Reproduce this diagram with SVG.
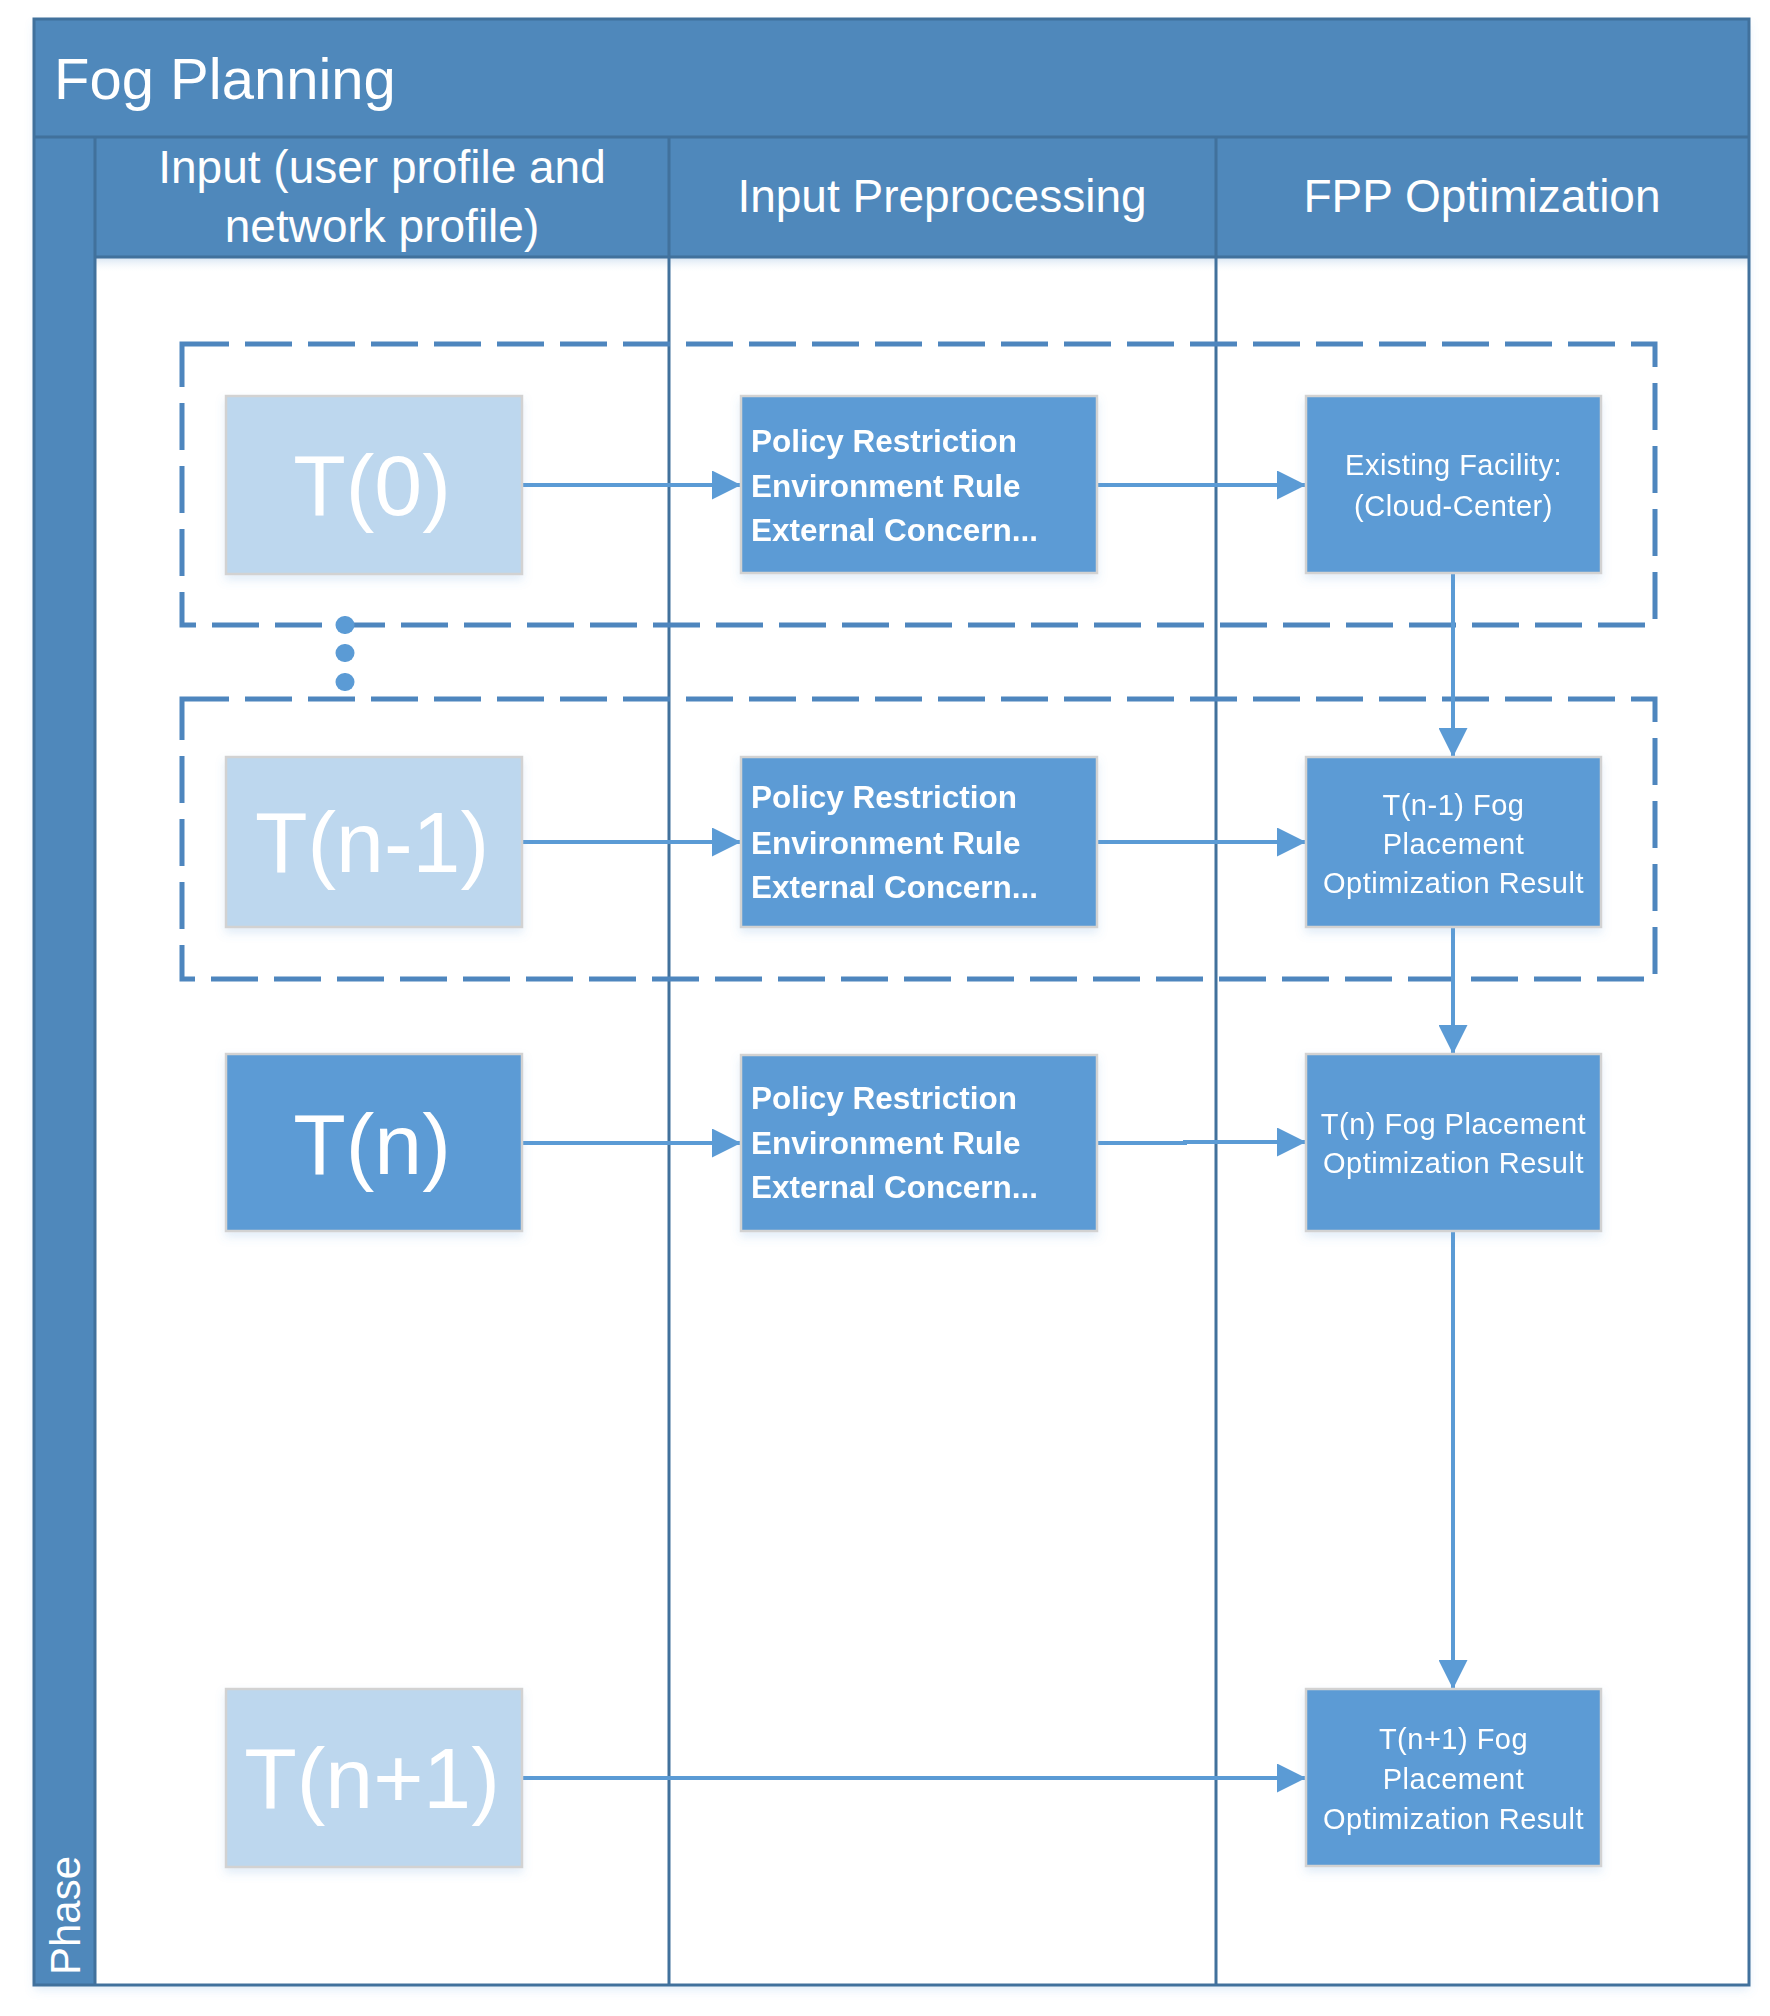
<svg xmlns="http://www.w3.org/2000/svg" width="1770" height="2016" viewBox="0 0 1770 2016">
<style>
.band{fill:#4F88BB;}
.frameln{stroke:#41719C;stroke-width:3;fill:none;}
.hdr{font-family:"Liberation Sans",Arial,sans-serif;fill:#FFFFFF;font-size:46px;text-anchor:middle;}
.light{fill:#BDD7EE;stroke:#D2D2D2;stroke-width:2.5;}
.dark{fill:#5B9BD5;stroke:#D2D2D2;stroke-width:2.5;}
.big{font-family:"Liberation Sans",Arial,sans-serif;fill:#FFFFFF;font-size:86px;text-anchor:middle;}
.pol{font-family:"Liberation Sans",Arial,sans-serif;fill:#FFFFFF;font-size:31.5px;font-weight:bold;}
.res{font-family:"Liberation Sans",Arial,sans-serif;fill:#FFFFFF;font-size:29px;letter-spacing:0.5px;text-anchor:middle;}
.dash{fill:none;stroke:#4E86BE;stroke-width:5;stroke-dasharray:47 16;}
.conn{fill:none;stroke:#5B9BD5;stroke-width:4;}
</style>
<defs>
<marker id="arr" viewBox="0 0 29 29" refX="29" refY="14.5" markerWidth="29" markerHeight="29" markerUnits="userSpaceOnUse" orient="auto">
<path d="M0,0 L29,14.5 L0,29 z" fill="#5B9BD5"/>
</marker>
<filter id="sh" x="-10%" y="-10%" width="120%" height="130%">
<feDropShadow dx="0" dy="5" stdDeviation="5" flood-color="#5B9BD5" flood-opacity="0.18"/>
</filter>
<linearGradient id="hg" x1="0" y1="0" x2="0" y2="1">
<stop offset="0" stop-color="#D3E2F1"/>
<stop offset="1" stop-color="#FFFFFF" stop-opacity="0"/>
</linearGradient>
</defs>
<rect width="1770" height="2016" fill="#FFFFFF"/>
<g id="pool">
<rect x="34" y="19" width="1715" height="1966" fill="#FFFFFF" filter="url(#sh)"/>
<rect x="95" y="257" width="1654" height="16" fill="url(#hg)"/>
<rect class="band" x="34" y="19" width="1715" height="118"/>
<rect class="band" x="34" y="137" width="61" height="1848"/>
<rect class="band" x="95" y="137" width="1654" height="120"/>
<line class="frameln" x1="34" y1="137" x2="1749" y2="137"/>
<line class="frameln" x1="95" y1="257" x2="1749" y2="257"/>
<line class="frameln" x1="95" y1="137" x2="95" y2="1985"/>
<line class="frameln" x1="669" y1="137" x2="669" y2="1985"/>
<line class="frameln" x1="1216" y1="137" x2="1216" y2="1985"/>
<rect class="frameln" x="34" y="19" width="1715" height="1966"/>
<text x="54" y="99" font-family="Liberation Sans, Arial, sans-serif" font-size="58" fill="#FFFFFF">Fog Planning</text>
<text class="hdr" x="382" y="183">Input (user profile and</text>
<text class="hdr" x="382" y="242">network profile)</text>
<text class="hdr" x="942" y="212">Input Preprocessing</text>
<text class="hdr" x="1482" y="212">FPP Optimization</text>
<text transform="translate(80,1975) rotate(-90)" font-family="Liberation Sans, Arial, sans-serif" font-size="42" fill="#FFFFFF">Phase</text>
</g>
<g id="groups">
<rect class="dash" x="182" y="344" width="1473" height="281"/>
<rect class="dash" x="182" y="699" width="1473" height="280"/>
</g>
<g id="ellipsis" fill="#5B9BD5">
<rect x="335.5" y="616" width="19" height="18" rx="9"/>
<rect x="335.5" y="644" width="19" height="18" rx="9"/>
<rect x="335.5" y="673" width="19" height="18" rx="9"/>
</g>
<g id="connectors">
<line class="conn" x1="522" y1="485" x2="741" y2="485" marker-end="url(#arr)"/>
<line class="conn" x1="1097" y1="485" x2="1306" y2="485" marker-end="url(#arr)"/>
<line class="conn" x1="1453" y1="573" x2="1453" y2="757" marker-end="url(#arr)"/>
<line class="conn" x1="522" y1="842" x2="741" y2="842" marker-end="url(#arr)"/>
<line class="conn" x1="1097" y1="842" x2="1306" y2="842" marker-end="url(#arr)"/>
<line class="conn" x1="1453" y1="927" x2="1453" y2="1054" marker-end="url(#arr)"/>
<line class="conn" x1="522" y1="1143" x2="741" y2="1143" marker-end="url(#arr)"/>
<path class="conn" d="M1097,1143 H1185 V1142 H1306" marker-end="url(#arr)"/>
<line class="conn" x1="1453" y1="1231" x2="1453" y2="1689" marker-end="url(#arr)"/>
<line class="conn" x1="522" y1="1778" x2="1306" y2="1778" marker-end="url(#arr)"/>
</g>
<g id="t0" filter="url(#sh)">
<rect class="light" x="226" y="396" width="296" height="178"/>
<text class="big" x="372" y="515">T(0)</text>
</g>
<g id="pp0" filter="url(#sh)">
<rect class="dark" x="741" y="396" width="356" height="177"/>
<text class="pol" x="751" y="452">Policy Restriction</text>
<text class="pol" x="751" y="497">Environment Rule</text>
<text class="pol" x="751" y="541">External Concern...</text>
</g>
<g id="existing" filter="url(#sh)">
<rect class="dark" x="1306" y="396" width="295" height="177"/>
<text class="res" x="1453.5" y="475">Existing Facility:</text>
<text class="res" x="1453.5" y="516">(Cloud-Center)</text>
</g>
<g id="tn1" filter="url(#sh)">
<rect class="light" x="226" y="757" width="296" height="170"/>
<text class="big" x="372" y="872">T(n-1)</text>
</g>
<g id="pp1" filter="url(#sh)">
<rect class="dark" x="741" y="757" width="356" height="170"/>
<text class="pol" x="751" y="808">Policy Restriction</text>
<text class="pol" x="751" y="854">Environment Rule</text>
<text class="pol" x="751" y="898">External Concern...</text>
</g>
<g id="fn1" filter="url(#sh)">
<rect class="dark" x="1306" y="757" width="295" height="170"/>
<text class="res" x="1453.5" y="815">T(n-1) Fog</text>
<text class="res" x="1453.5" y="854">Placement</text>
<text class="res" x="1453.5" y="893">Optimization Result</text>
</g>
<g id="tn" filter="url(#sh)">
<rect class="dark" x="226" y="1054" width="296" height="177"/>
<text class="big" x="372" y="1174">T(n)</text>
</g>
<g id="pp2" filter="url(#sh)">
<rect class="dark" x="741" y="1055" width="356" height="176"/>
<text class="pol" x="751" y="1109">Policy Restriction</text>
<text class="pol" x="751" y="1154">Environment Rule</text>
<text class="pol" x="751" y="1198">External Concern...</text>
</g>
<g id="fn" filter="url(#sh)">
<rect class="dark" x="1306" y="1054" width="295" height="177"/>
<text class="res" x="1453.5" y="1134">T(n) Fog Placement</text>
<text class="res" x="1453.5" y="1173">Optimization Result</text>
</g>
<g id="tnp1" filter="url(#sh)">
<rect class="light" x="226" y="1689" width="296" height="178"/>
<text class="big" x="372" y="1808">T(n+1)</text>
</g>
<g id="fnp1" filter="url(#sh)">
<rect class="dark" x="1306" y="1689" width="295" height="177"/>
<text class="res" x="1453.5" y="1749">T(n+1) Fog</text>
<text class="res" x="1453.5" y="1789">Placement</text>
<text class="res" x="1453.5" y="1829">Optimization Result</text>
</g>
</svg>
